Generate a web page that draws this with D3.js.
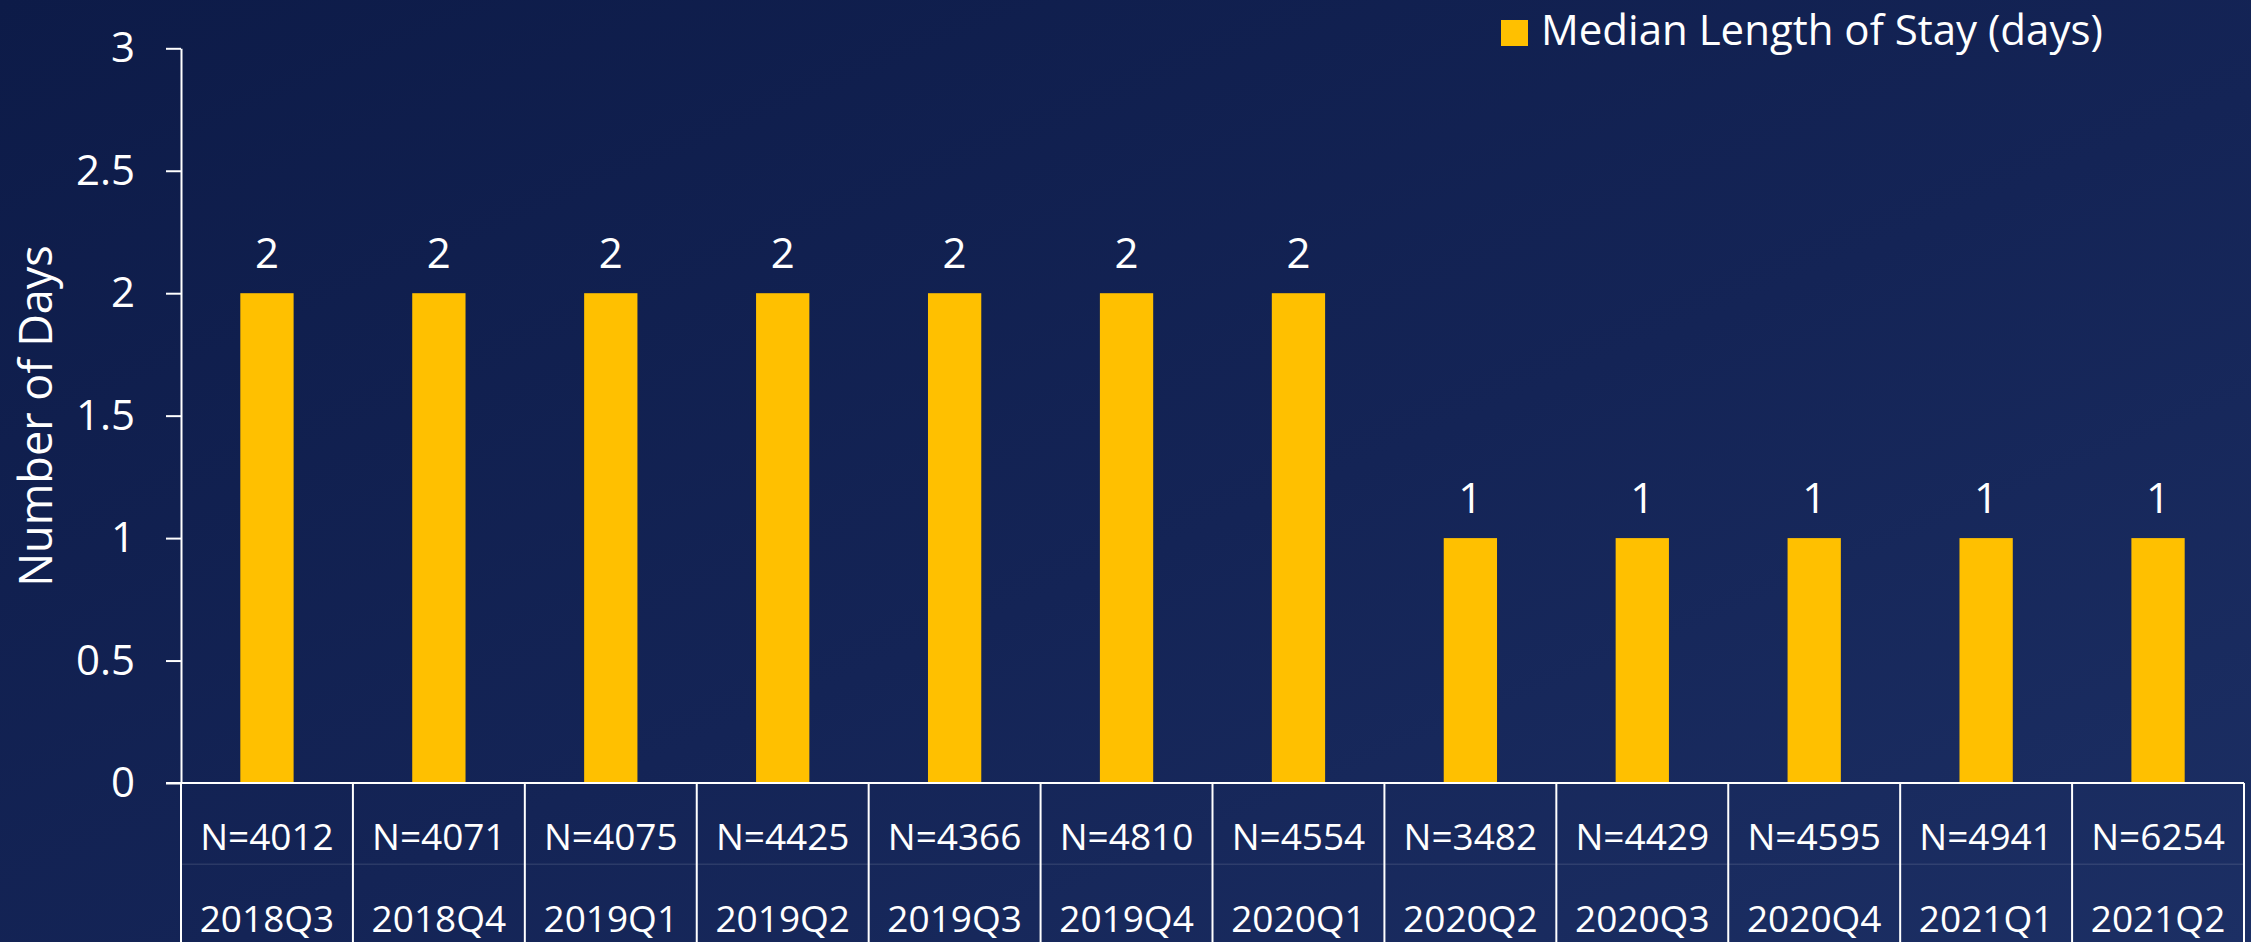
<!DOCTYPE html>
<html>
<head>
<meta charset="utf-8">
<script src="https://cdn.jsdelivr.net/npm/d3@7"></script>
<style>
  html, body { margin: 0; padding: 0; overflow: hidden; }
  body { width: 2251px; height: 942px; }
  svg { display: block; font-family: "Open Sans", Lato, sans-serif; }
</style>
</head>
<body>
<svg id="chart" width="2251" height="942"></svg>
<script>
// Quarterly median length of stay, with the sample size for each quarter
const quarters = ["2018Q3", "2018Q4", "2019Q1", "2019Q2", "2019Q3", "2019Q4",
                  "2020Q1", "2020Q2", "2020Q3", "2020Q4", "2021Q1", "2021Q2"];
const sampleSizes = [4012, 4071, 4075, 4425, 4366, 4810, 4554, 3482, 4429, 4595, 4941, 6254];
const medianLOS = [2, 2, 2, 2, 2, 2, 2, 1, 1, 1, 1, 1];
const yTicks = [0, 0.5, 1, 1.5, 2, 2.5, 3];
const seriesName = "Median Length of Stay (days)";
const yTitle = "Number of Days";

const W = 2251, H = 942;
const plot = { left: 181, right: 2244, top: 48.3, bottom: 783 };
const barColor = "#FFC000";
const ink = "#ffffff";
const fontFamily = "'Open Sans', Lato, sans-serif";

const svg = d3.select("#chart");

// Background: deep navy, slightly lighter toward the bottom right
const defs = svg.append("defs");
const grad = defs.append("linearGradient")
  .attr("id", "bg").attr("x1", "0").attr("y1", "0").attr("x2", "1").attr("y2", "1");
grad.append("stop").attr("offset", "0%").attr("stop-color", "#0d1b48");
grad.append("stop").attr("offset", "55%").attr("stop-color", "#142456");
grad.append("stop").attr("offset", "100%").attr("stop-color", "#1c2f64");
svg.append("rect").attr("width", W).attr("height", H).attr("fill", "url(#bg)");

// Scales: one table column per quarter, bar centred in its column
const x = d3.scaleBand()
  .domain(quarters)
  .range([plot.left, plot.right])
  .paddingInner(0.69)
  .paddingOuter(0.345);

const y = d3.scaleLinear().domain([0, 3]).range([plot.bottom, plot.top]);

// Y axis
const yAxis = d3.axisLeft(y)
  .tickValues(yTicks)
  .tickFormat(d3.format("~g"))
  .tickSize(15)
  .tickSizeOuter(0)
  .tickPadding(31);

const gy = svg.append("g")
  .attr("transform", `translate(${plot.left},0)`)
  .call(yAxis);
gy.select(".domain").attr("stroke", ink).attr("stroke-width", 2);
gy.selectAll(".tick line").attr("stroke", ink).attr("stroke-width", 2);
gy.selectAll(".tick text")
  .attr("fill", ink)
  .attr("font-family", fontFamily)
  .attr("font-size", 42);

// Y axis title
svg.append("text")
  .attr("transform", `translate(52,416) rotate(-90)`)
  .attr("text-anchor", "middle")
  .attr("fill", ink)
  .attr("font-size", 45)
  .text(yTitle);

const rows = quarters.map((q, i) => ({ q, v: medianLOS[i], n: sampleSizes[i] }));

// Bars
svg.append("g").selectAll("rect")
  .data(rows)
  .join("rect")
  .attr("x", d => x(d.q))
  .attr("y", d => y(d.v))
  .attr("width", x.bandwidth())
  .attr("height", d => y(0) - y(d.v))
  .attr("fill", barColor);

// Value labels above bars
svg.append("g").selectAll("text")
  .data(rows)
  .join("text")
  .attr("x", d => x(d.q) + x.bandwidth() / 2)
  .attr("y", d => y(d.v) - 25)
  .attr("text-anchor", "middle")
  .attr("fill", ink)
  .attr("font-size", 42)
  .text(d => d.v);

// Data table under the axis: sample size row and quarter row
const table = svg.append("g");
const rowMid = 864.3;
table.append("line")
  .attr("x1", plot.left - 15).attr("x2", plot.right)
  .attr("y1", plot.bottom).attr("y2", plot.bottom)
  .attr("stroke", ink).attr("stroke-width", 2);
table.append("line")
  .attr("x1", plot.left).attr("x2", plot.right)
  .attr("y1", rowMid).attr("y2", rowMid)
  .attr("stroke", ink).attr("stroke-opacity", 0.1).attr("stroke-width", 1.5);

const edges = quarters.map(q => x(q) - x.step() * x.paddingInner() / 2);
edges.push(plot.right);
table.selectAll("line.cell")
  .data(edges)
  .join("line")
  .attr("class", "cell")
  .attr("x1", d => d).attr("x2", d => d)
  .attr("y1", plot.bottom).attr("y2", H + 5)
  .attr("stroke", ink).attr("stroke-width", 2);

table.selectAll("text.n")
  .data(rows)
  .join("text")
  .attr("class", "n")
  .attr("x", d => x(d.q) + x.bandwidth() / 2)
  .attr("y", 850)
  .attr("text-anchor", "middle")
  .attr("fill", ink)
  .attr("font-size", 37)
  .text(d => `N=${d.n}`);

table.selectAll("text.q")
  .data(rows)
  .join("text")
  .attr("class", "q")
  .attr("x", d => x(d.q) + x.bandwidth() / 2)
  .attr("y", 931.5)
  .attr("text-anchor", "middle")
  .attr("fill", ink)
  .attr("font-size", 37)
  .text(d => d.q);

// Legend
const legend = svg.append("g").attr("transform", "translate(1501,20)");
legend.append("rect").attr("width", 27).attr("height", 26).attr("fill", barColor);
legend.append("text")
  .attr("x", 40).attr("y", 25.3)
  .attr("fill", ink)
  .attr("font-size", 42)
  .text(seriesName);
</script>
</body>
</html>
